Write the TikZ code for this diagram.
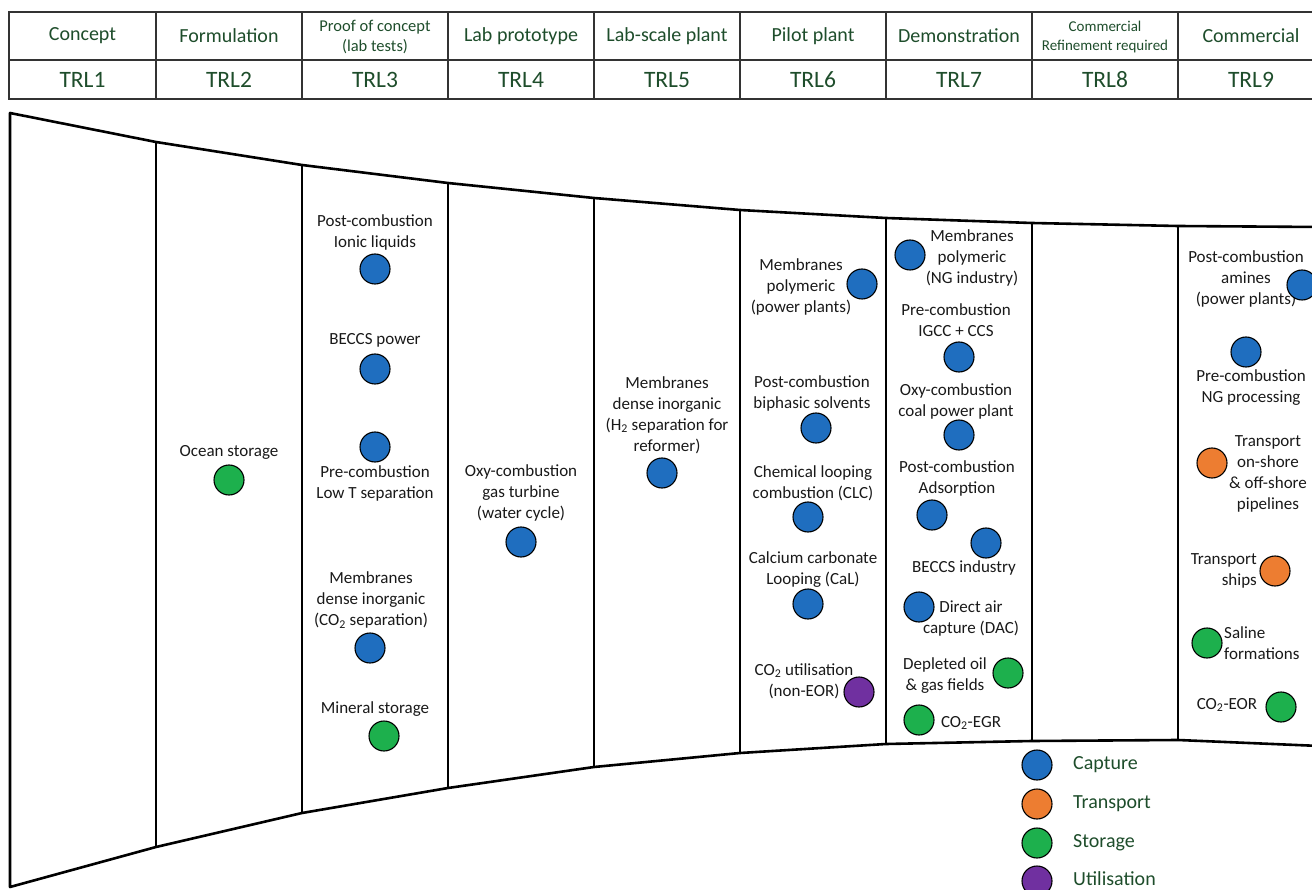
\documentclass[tikz,border=0pt]{standalone}
\usepackage{fontspec}
\setmainfont{Carlito}
\usepackage{tikz}
\definecolor{capt}{HTML}{1F6EBF}
\definecolor{trans}{HTML}{ED7D31}
\definecolor{stor}{HTML}{1DB04D}
\definecolor{util}{HTML}{7030A0}
\definecolor{hdr}{HTML}{1E4D2B}
\newcommand{\COtwo}{CO\textsubscript{2}}
\newcommand{\Htwo}{H\textsubscript{2}}

\begin{document}
\begin{tikzpicture}[x=1pt,y=-1pt,
  grid/.style={draw=black!80,line width=1.4pt},
  funnel/.style={line width=2.6pt,line join=round},
  hlab/.style={text=hdr,font=\fontsize{20}{24}\selectfont,align=center,inner sep=0pt},
  trl/.style={text=hdr,font=\fontsize{23.5}{27}\selectfont,inner sep=0pt},
  item/.style={font=\fontsize{17}{21}\selectfont,align=center,inner sep=0pt,text=black!90},
  dot/.style={circle,draw=black,line width=1.1pt,minimum size=30pt,inner sep=0pt},
  capdot/.style={dot,fill=capt},
  trdot/.style={dot,fill=trans},
  stdot/.style={dot,fill=stor},
  utdot/.style={dot,fill=util},
  leg/.style={text=hdr,font=\fontsize{20}{24}\selectfont,inner sep=0pt,anchor=west}]
  \useasboundingbox (0,0) rectangle (1312,890);
  \clip (0,0) rectangle (1312,890);

  % TRL table
  \draw[grid] (9,12) rectangle (1324,99);
  \draw[grid] (9,60) -- (1324,60);
  \foreach \x in {156,302,448,594,740,886,1032,1178}
    \draw[grid] (\x,12) -- (\x,99);
  \node[hlab] (h1) at (82.5,36) {Concept};
  \node[hlab] (h2) at (229,36) {Formulation};
  \node[hlab,font=\fontsize{16.5}{20}\selectfont] (h3) at (375,37) {Proof of concept\\(lab tests)};
  \node[hlab] (h4) at (521,36) {Lab prototype};
  \node[hlab] (h5) at (667,36) {Lab-scale plant};
  \node[hlab] (h6) at (813,36) {Pilot plant};
  \node[hlab] (h7) at (959,36) {Demonstration};
  \node[hlab,font=\fontsize{15}{18.5}\selectfont] (h8) at (1105,37) {Commercial\\Refinement required};
  \node[hlab] (h9) at (1251,36) {Commercial};
  \node[trl] (trl1) at (82.5,80) {TRL1};
  \node[trl] (trl2) at (229,80) {TRL2};
  \node[trl] (trl3) at (375,80) {TRL3};
  \node[trl] (trl4) at (521,80) {TRL4};
  \node[trl] (trl5) at (667,80) {TRL5};
  \node[trl] (trl6) at (813,80) {TRL6};
  \node[trl] (trl7) at (959,80) {TRL7};
  \node[trl] (trl8) at (1105,80) {TRL8};
  \node[trl] (trl9) at (1251,80) {TRL9};

  % funnel outline and column walls
  \draw[funnel] (1320,227) -- (1178,226) -- (1032,223) -- (886,218) -- (740,210) -- (594,198)
    -- (448,183) -- (302,165) -- (156,142) -- (10,113) -- (10,887) -- (156,847) -- (302,813)
    -- (448,788) -- (594,767) -- (740,753) -- (886,744) -- (1032,741) -- (1178,740) -- (1320,746);
  \draw[funnel] (156,142) -- (156,847);
  \draw[funnel] (302,165) -- (302,813);
  \draw[funnel] (448,183) -- (448,788);
  \draw[funnel] (594,198) -- (594,767);
  \draw[funnel] (740,210) -- (740,753);
  \draw[funnel] (886,218) -- (886,744);
  \draw[funnel] (1032,223) -- (1032,741);
  \draw[funnel] (1178,226) -- (1178,740);

  % TRL2
  \node[item] (ocean-t) at (229,452) {Ocean storage};
  \node[stdot] (ocean) at (229,480) {};

  % TRL3
  \node[item] (ionic-t) at (375,232) {Post-combustion\\Ionic liquids};
  \node[capdot] (ionic) at (375,269) {};
  \node[item] (beccsp-t) at (375,340) {BECCS power};
  \node[capdot] (beccsp) at (375,369) {};
  \node[capdot] (lowt) at (375,447) {};
  \node[item] (lowt-t) at (375,483) {Pre-combustion\\Low T separation};
  \node[item] (mdi-t) at (371,600) {Membranes\\dense inorganic\\(\COtwo{} separation)};
  \node[capdot] (mdi) at (370,648) {};
  \node[item] (mineral-t) at (375,709) {Mineral storage};
  \node[stdot] (mineral) at (384,736) {};

  % TRL4
  \node[item] (gt-t) at (521,493) {Oxy-combustion\\gas turbine\\(water cycle)};
  \node[capdot] (gt) at (521,542) {};

  % TRL5
  \node[item] (mh2-t) at (667,415) {Membranes\\dense inorganic\\(\Htwo{} separation for\\reformer)};
  \node[capdot] (mh2) at (662,473) {};

  % TRL6
  \node[item] (mpp-t) at (801,287) {Membranes\\polymeric\\(power plants)};
  \node[capdot] (mpp) at (862,284) {};
  \node[item] (bip-t) at (812,393) {Post-combustion\\biphasic solvents};
  \node[capdot] (bip) at (816,428) {};
  \node[item] (clc-t) at (813,483) {Chemical looping\\combustion (CLC)};
  \node[capdot] (clc) at (808,517) {};
  \node[item] (cal-t) at (813,570) {Calcium carbonate\\Looping (CaL)};
  \node[capdot] (cal) at (808,604) {};
  \node[item] (use-t) at (804,681) {\COtwo{} utilisation\\(non-EOR)};
  \node[utdot] (use) at (859,692) {};

  % TRL7
  \node[capdot] (mng) at (910,255) {};
  \node[item] (mng-t) at (972,258) {Membranes\\polymeric\\(NG industry)};
  \node[item] (igcc-t) at (956,320) {Pre-combustion\\IGCC + CCS};
  \node[capdot] (igcc) at (959,357) {};
  \node[item] (coal-t) at (956,401) {Oxy-combustion\\coal power plant};
  \node[capdot] (coal) at (959,435) {};
  \node[item] (ads-t) at (957,478) {Post-combustion\\Adsorption};
  \node[capdot] (ads) at (932,515) {};
  \node[capdot] (beccsi) at (986,543) {};
  \node[item] (beccsi-t) at (964,568) {BECCS industry};
  \node[capdot] (dac) at (919,607) {};
  \node[item] (dac-t) at (971,619) {Direct air\\capture (DAC)};
  \node[item] (dep-t) at (945,676) {Depleted oil\\\& gas fields};
  \node[stdot] (dep) at (1008,673) {};
  \node[stdot] (egr) at (919,720) {};
  \node[item] (egr-t) at (971,723) {\COtwo-EGR};

  % TRL9
  \node[item] (amine-t) at (1246,279) {Post-combustion\\amines\\(power plants)};
  \node[capdot] (amine) at (1302,285) {};
  \node[capdot] (ngp) at (1246,352) {};
  \node[item] (ngp-t) at (1251,388) {Pre-combustion\\NG processing};
  \node[trdot] (pipe) at (1212,463) {};
  \node[item] (pipe-t) at (1268,474) {Transport\\on-shore\\\& off-shore\\pipelines};
  \node[item,align=right,anchor=east] (ships-t) at (1257,571) {Transport\\ships};
  \node[trdot] (ships) at (1275,571) {};
  \node[stdot] (saline) at (1207,643) {};
  \node[item,align=left,anchor=west] (saline-t) at (1224,643) {Saline\\formations};
  \node[item] (eor-t) at (1227,705) {\COtwo-EOR};
  \node[stdot] (eor) at (1281,707) {};

  % legend
  \node[capdot] (k-cap) at (1037,765) {};
  \node[leg] (k-cap-t) at (1073,765) {Capture};
  \node[trdot] (k-tr) at (1037,804) {};
  \node[leg] (k-tr-t) at (1073,804) {Transport};
  \node[stdot] (k-st) at (1037,843) {};
  \node[leg] (k-st-t) at (1073,843) {Storage};
  \node[utdot] (k-ut) at (1037,881) {};
  \node[leg] (k-ut-t) at (1073,879) {Utilisation};
\end{tikzpicture}
\end{document}
